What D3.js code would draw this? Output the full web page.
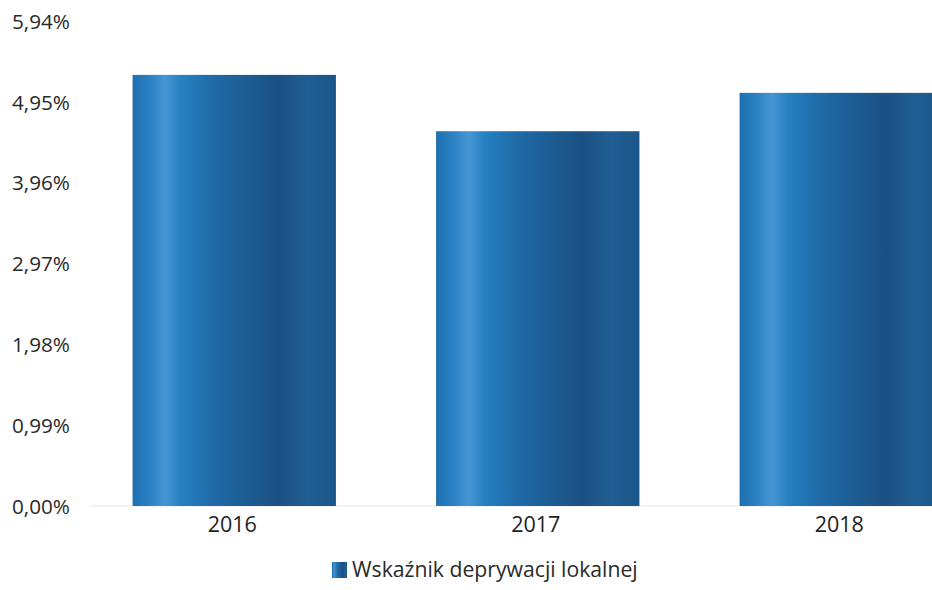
<!DOCTYPE html>
<html><head><meta charset="utf-8">
<script src="https://cdn.jsdelivr.net/npm/d3@7"></script>
<style>body{margin:0;background:#fff}svg{display:block}</style>
</head><body>
<svg id="c" width="932" height="590"></svg>
<script>
const categories = ["2016", "2017", "2018"];
const values = [5.28, 4.59, 5.06];
const tickValues = [0, 0.99, 1.98, 2.97, 3.96, 4.95, 5.94];
const seriesName = "Wskaźnik deprywacji lokalnej";

const svg = d3.select("#c");
const font = "'Open Sans', 'Noto Sans', sans-serif";

const y = d3.scaleLinear().domain([0, 5.94]).range([506, 21]);
const x = d3.scaleBand().domain(categories).range([82.5, 993]).paddingInner(0.33).paddingOuter(0.165);

const defs = svg.append("defs");
const g = defs.append("linearGradient").attr("id", "barGrad").attr("x1", "0").attr("x2", "1").attr("y1", "0").attr("y2", "0");
[[0, "#1d70b0"], [0.08, "#2a80c2"], [0.16, "#4796d4"], [0.24, "#2580c2"], [0.4, "#1f6aa6"], [0.58, "#1d5b92"], [0.72, "#1b5083"], [0.86, "#215e94"], [1, "#1c5588"]]
  .forEach(([o, c]) => g.append("stop").attr("offset", o).attr("stop-color", c));

// baseline
svg.append("line").attr("x1", 90).attr("x2", 932).attr("y1", y(0)).attr("y2", y(0))
  .attr("stroke", "#e6e6e6").attr("stroke-width", 1);

// y axis labels
const yAxis = d3.axisLeft(y).tickValues(tickValues).tickSize(0).tickPadding(0)
  .tickFormat(d => d.toFixed(2).replace(".", ",") + "%");
const ya = svg.append("g").attr("transform", "translate(12,0)").call(yAxis);
ya.select(".domain").remove();
ya.selectAll("text").attr("text-anchor", "start").attr("font-family", font)
  .attr("font-size", 20.7).attr("fill", "#2a2a2a").attr("dy", "0.35em");

// bars
svg.append("g").selectAll("rect").data(values).join("rect")
  .attr("x", (d, i) => x(categories[i]))
  .attr("width", x.bandwidth())
  .attr("y", d => y(d))
  .attr("height", d => y(0) - y(d))
  .attr("fill", "url(#barGrad)");

// x axis labels
const xAxis = d3.axisBottom(x).tickSize(0).tickPadding(0);
const xa = svg.append("g").attr("transform", `translate(-2,${y(0) + 11})`).call(xAxis);
xa.select(".domain").remove();
xa.selectAll("text").attr("font-family", font).attr("font-size", 21.5).attr("fill", "#1e1e1e").attr("dy", "0.71em");

// legend
const lg = svg.append("g").attr("transform", "translate(332,562)");
lg.append("rect").attr("width", 15).attr("height", 16).attr("fill", "url(#barGrad)");
lg.append("text").attr("x", 20).attr("y", 8).attr("dy", "0.35em").attr("font-family", font)
  .attr("font-size", 21.2).attr("fill", "#2a2a2a").text(seriesName);
</script>
</body></html>
